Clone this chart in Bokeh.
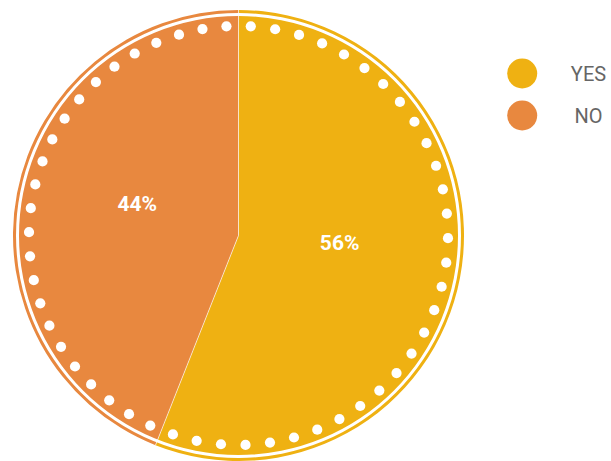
import math
from bokeh.plotting import figure
from bokeh.models import Range1d, ColumnDataSource
from bokeh.core.properties import value
from bokeh.embed import file_html
from bokeh.resources import INLINE

# ---- data ----
labels = ["YES", "NO"]
values = [56, 44]
pct_text = ["56%", "44%"]
colors = ["#EFB112", "#E8883F"]

# ---- layout (pixels) ----
W, H = 611, 461
p = figure(width=W, height=H, output_backend="svg", toolbar_location=None,
           x_range=Range1d(0, W), y_range=Range1d(0, H), min_border=0,
           background_fill_color="white", border_fill_color="white")
p.axis.visible = False
p.grid.visible = False
p.outline_line_color = None

def fy(page_y):
    return H - page_y

cx, cy = 238, fy(235)
R_OUT = 225.5
R_GAP_OUT = 222.5
R_GAP_IN = 219.5
R_DOTS = 209.5
DOT_R = 5.1
DOT_STEP = 6.7  # degrees between dots

total = float(sum(values))
starts, ends = [], []
a = math.pi / 2
for v in values:
    span = 2 * math.pi * v / total
    starts.append(a)
    ends.append(a - span)
    a -= span

src = ColumnDataSource(dict(start=starts, end=ends, color=colors,
                            x=[cx] * len(values), y=[cy] * len(values)))
p.wedge(x="x", y="y", radius=R_OUT, start_angle="start", end_angle="end",
        direction="clock", fill_color="color", line_color=None, source=src)

# white gap ring
p.annulus(x=cx, y=cy, inner_radius=R_GAP_IN, outer_radius=R_GAP_OUT,
          fill_color="white", line_color=None)

# slice separators
sx0, sy0, sx1, sy1 = [], [], [], []
for s in starts:
    sx0.append(cx); sy0.append(cy)
    sx1.append(cx + R_OUT * math.cos(s)); sy1.append(cy + R_OUT * math.sin(s))
p.segment(x0=sx0, y0=sy0, x1=sx1, y1=sy1, line_color="white", line_width=0.8, line_alpha=0.8)

# dots
dx, dy = [], []
for s, e in zip(starts, ends):
    span_deg = math.degrees(s - e)
    n = int(round(span_deg / DOT_STEP))
    for i in range(n):
        ang = s - (i + 0.5) * (s - e) / n
        dx.append(cx + R_DOTS * math.cos(ang))
        dy.append(cy + R_DOTS * math.sin(ang))
p.circle(x=dx, y=dy, radius=DOT_R, fill_color="white", line_color=None)

# percentage labels
lx, ly = [], []
for s, e in zip(starts, ends):
    m = (s + e) / 2
    lx.append(cx + 103 * math.cos(m))
    ly.append(cy + 103 * math.sin(m))
p.text(x=lx, y=ly, text=pct_text, text_color="white", text_font=value("Roboto"),
       text_font_style="bold", text_font_size="21px", text_align="center",
       text_baseline="bottom")

# legend
lgx = 521.7
lg_y = [fy(73 + 42 * i) for i in range(len(labels))]
p.circle(x=[lgx] * len(labels), y=lg_y, radius=15, fill_color=colors, line_color=None)
p.text(x=[588] * len(labels), y=lg_y, text=labels, text_color="#666666",
       text_font=value("Roboto"), text_font_size="20px",
       text_align="center", text_baseline="middle")

open("out.html", "w").write(file_html(p, INLINE))
